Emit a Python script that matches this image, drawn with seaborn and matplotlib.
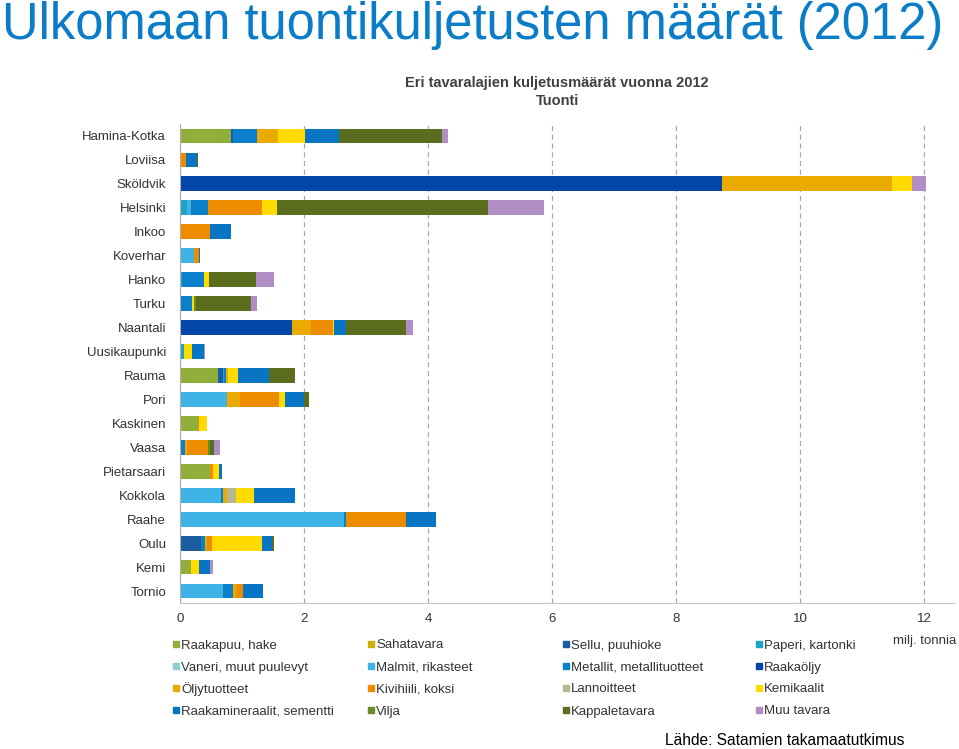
import matplotlib
matplotlib.use("Agg")
import matplotlib.pyplot as plt
import seaborn as sns
import pandas as pd
import numpy as np
from matplotlib.lines import Line2D

# Ports (top to bottom)
ports = ['Hamina-Kotka', 'Loviisa', 'Sköldvik', 'Helsinki', 'Inkoo', 'Koverhar', 'Hanko',
         'Turku', 'Naantali', 'Uusikaupunki', 'Rauma', 'Pori', 'Kaskinen', 'Vaasa',
         'Pietarsaari', 'Kokkola', 'Raahe', 'Oulu', 'Kemi', 'Tornio']

# Import volumes by commodity, milj. tonnia
#                 HK    Lov   Skö   Hel   Ink   Kov   Han   Tur   Naa   Uki   Rau   Por   Kas   Vaa   Pie   Kok   Raa   Oul   Kem   Tor
raakapuu =       [0.83, 0,    0,    0,    0,    0,    0,    0,    0,    0,    0.62, 0,    0.29, 0,    0.48, 0,    0,    0,    0.18, 0]
sahatavara =     [0,    0,    0,    0,    0,    0,    0,    0,    0,    0,    0,    0,    0,    0,    0,    0,    0,    0,    0,    0]
sellu =          [0.03, 0,    0,    0,    0,    0,    0,    0,    0,    0,    0.07, 0,    0,    0,    0,    0,    0,    0.34, 0,    0]
paperi =         [0,    0,    0,    0.11, 0,    0,    0.04, 0,    0,    0.06, 0.02, 0,    0,    0,    0,    0,    0,    0,    0,    0]
vaneri =         [0,    0,    0,    0,    0,    0,    0,    0,    0,    0,    0,    0,    0,    0,    0,    0,    0,    0,    0,    0]
malmit =         [0,    0,    0,    0.07, 0,    0.23, 0,    0,    0,    0,    0,    0.75, 0,    0,    0,    0.66, 2.65, 0,    0,    0.69]
metallit =       [0.38, 0,    0,    0.27, 0,    0,    0.34, 0.19, 0,    0,    0.03, 0,    0,    0.08, 0,    0.03, 0.02, 0.06, 0,    0.16]
raakaoljy =      [0,    0,    8.74, 0,    0,    0,    0,    0,    1.81, 0,    0,    0,    0,    0,    0,    0,    0,    0,    0,    0]
oljytuotteet =   [0.34, 0,    2.74, 0,    0,    0,    0,    0,    0.30, 0,    0.04, 0.22, 0,    0.03, 0,    0.07, 0,    0.04, 0,    0.05]
kivihiili =      [0,    0.10, 0,    0.88, 0.48, 0.07, 0,    0,    0.35, 0,    0,    0.62, 0.02, 0.34, 0.05, 0,    0.98, 0.07, 0,    0.12]
lannoitteet =    [0,    0,    0,    0,    0,    0,    0,    0,    0,    0,    0,    0,    0,    0,    0,    0.15, 0,    0,    0,    0]
kemikaalit =     [0.44, 0,    0.32, 0.23, 0,    0,    0.09, 0.03, 0.02, 0.13, 0.15, 0.11, 0.12, 0,    0.10, 0.29, 0,    0.81, 0.12, 0]
raakamineraalit = [0.54, 0.17, 0,   0,    0.35, 0.02, 0,    0,    0.20, 0.20, 0.50, 0.30, 0,    0,    0.05, 0.66, 0.48, 0.16, 0.19, 0.32]
vilja =          [0,    0,    0,    0,    0,    0,    0,    0.03, 0,    0,    0,    0,    0,    0.03, 0,    0,    0,    0,    0,    0]
kappaletavara =  [1.67, 0.02, 0,    3.41, 0,    0,    0.76, 0.89, 0.97, 0,    0.43, 0.08, 0,    0.07, 0,    0,    0,    0.04, 0,    0]
muu =            [0.09, 0,    0.23, 0.90, 0,    0,    0.29, 0.10, 0.10, 0.02, 0,    0,    0,    0.10, 0,    0,    0,    0,    0.04, 0]

goods = ['Raakapuu, hake', 'Sahatavara', 'Sellu, puuhioke', 'Paperi, kartonki',
         'Vaneri, muut puulevyt', 'Malmit, rikasteet', 'Metallit, metallituotteet', 'Raakaöljy',
         'Öljytuotteet', 'Kivihiili, koksi', 'Lannoitteet', 'Kemikaalit',
         'Raakamineraalit, sementti', 'Vilja', 'Kappaletavara', 'Muu tavara']
series = [raakapuu, sahatavara, sellu, paperi, vaneri, malmit, metallit, raakaoljy,
          oljytuotteet, kivihiili, lannoitteet, kemikaalit, raakamineraalit, vilja,
          kappaletavara, muu]
colors = ['#8FAF3A', '#CDAF0A', '#1B5C9E', '#1FA3C9', '#8CCFCF', '#3DB4E5', '#0A7FCB', '#0445A8',
          '#EAAA00', '#EE8C00', '#B4B98F', '#FFDB00', '#0874C4', '#6A8C26', '#5B6E1E', '#B08DC4']

sns.set_style("white")
plt.rcParams['font.family'] = ['Liberation Sans', 'DejaVu Sans']

W, H = 959, 749
fig = plt.figure(figsize=(9.59, 7.49), dpi=100)
ax = fig.add_axes([180 / W, 1 - 603 / H, 775 / W, 479 / H])

# stacked bars: draw cumulative totals, longest first
cum = np.cumsum(np.array(series, dtype=float), axis=0)
for i in range(len(goods) - 1, -1, -1):
    df = pd.DataFrame({'port': ports, 'val': cum[i]})
    sns.barplot(data=df, x='val', y='port', order=ports, orient='h', color=colors[i],
                saturation=1, width=0.62, linewidth=0, ax=ax)

ax.set_xlim(0, 12.5)
ax.set_ylim(19.5, -0.5)
ax.set_xticks(range(0, 13, 2))
ax.xaxis.grid(True, linestyle=(0, (4, 3)), color='#A8A8A8', linewidth=0.9)
ax.set_axisbelow(True)
ax.set_xlabel('')
ax.set_ylabel('')
for s in ['top', 'right']:
    ax.spines[s].set_visible(False)
ax.spines['left'].set_color('#B0B0B0')
ax.spines['bottom'].set_color('#C8C8C8')
ax.tick_params(axis='y', length=0, labelsize=9.5, labelcolor='#333333', pad=10)
ax.tick_params(axis='x', length=0, labelsize=9.5, labelcolor='#333333', pad=7)

# legend, 4 columns filled row by row
col_x = [176, 371, 566, 759]
row_y = [644, 666, 688, 710]
for k, (name, c) in enumerate(zip(goods, colors)):
    r, cidx = divmod(k, 4)
    x, y = col_x[cidx], row_y[r]
    fig.add_artist(Line2D([x / W], [1 - y / H], marker='s', linestyle='', markersize=5,
                          color=c, transform=fig.transFigure))
    fig.text((x + 5) / W, 1 - (y + 4.5) / H, name, ha='left', va='baseline', fontsize=9.5,
             color='#333333')

fig.text(925 / W, 1 - 641 / H, 'milj. tonnia', ha='center', va='center', fontsize=9.5, color='#333333')
fig.text(557 / W, 1 - 83 / H, 'Eri tavaralajien kuljetusmäärät vuonna 2012', ha='center', va='center',
         fontsize=10.5, fontweight='bold', color='#404040')
fig.text(557 / W, 1 - 101 / H, 'Tuonti', ha='center', va='center',
         fontsize=10.5, fontweight='bold', color='#404040')
fig.text(2 / W, 1 - 39 / H, 'Ulkomaan tuontikuljetusten määrät (2012)', ha='left', va='baseline',
         fontsize=36.5, color='#0A7CC8')
fig.text(665 / W, 1 - 745 / H, 'Lähde: Satamien takamaatutkimus', ha='left', va='baseline',
         fontsize=11.2, color='black')

fig.savefig('out.png', dpi=100)
